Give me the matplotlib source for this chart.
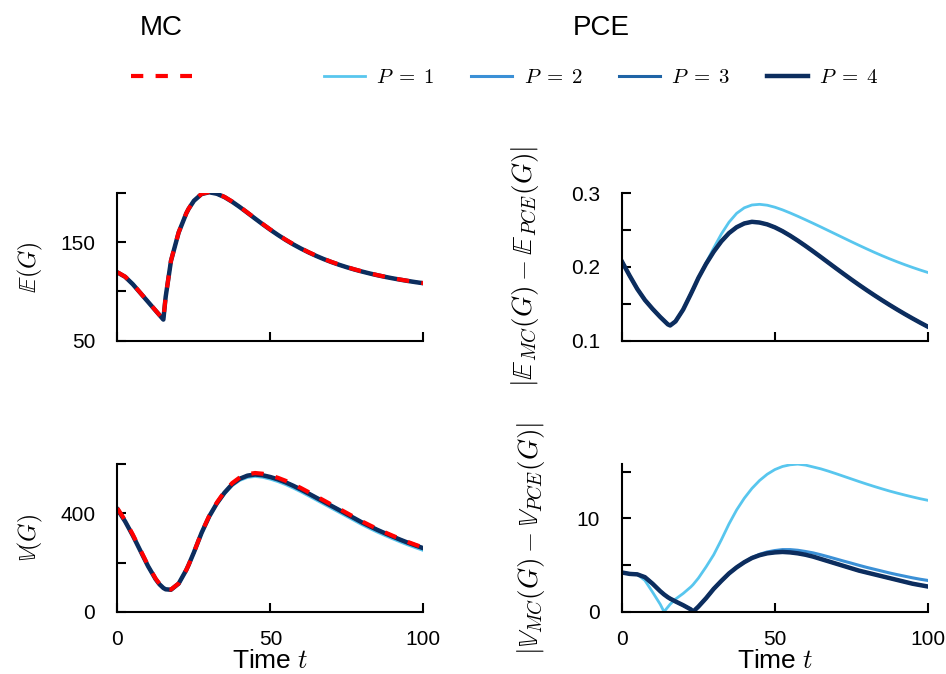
import matplotlib
matplotlib.use('Agg')
import matplotlib.pyplot as plt
from matplotlib.lines import Line2D
import numpy as np

plt.rcParams['font.family'] = ['Liberation Sans', 'DejaVu Sans']
plt.rcParams['mathtext.fontset'] = 'cm'

# time grid (extra points near the kinks)
t = [0, 2.5, 5, 7.5, 10, 12.5, 13.75, 15, 15.75, 17.5, 20, 22.5, 23.25,
     25, 27.5, 30, 32.5, 35, 37.5, 40, 42.5, 45, 47.5, 50, 52.5, 55, 57.5,
     60, 62.5, 65, 67.5, 70, 72.5, 75, 77.5, 80, 82.5, 85, 87.5, 90, 92.5,
     95, 97.5, 100]

# Monte Carlo mean and variance of G
mean_mc = [119.5, 115, 107.5, 98.5, 89.5, 80.5, 76, 71.5, 94.5, 131.3, 160, 179.5, 184,
           192.3, 199.2, 201, 199.5, 196.1, 191.4, 186.0, 180.2, 174.3, 168.5, 162.9, 157.6, 152.6, 148.0,
           143.8, 139.9, 136.3, 133.0, 130.0, 127.25, 124.75, 122.45, 120.35, 118.4, 116.6, 114.95, 113.45, 112.05,
           110.75, 109.55, 108.45]
var_mc = [420, 371, 314, 251, 188, 134, 113, 98, 92.5, 90.5, 115, 170, 190,
          242, 322, 390, 444, 488, 523, 546, 559, 564, 561, 554, 544.3, 532.3, 518.3,
          502.8, 486.3, 469.3, 452.3, 435.3, 418.3, 401.3, 384.3, 367, 351.5, 336.5, 322.5, 309, 296,
          283.5, 272, 261]

# |E_MC - E_PCE| for each order P
err_mean_p1 = [0.207, 0.188, 0.170, 0.155, 0.143, 0.132, 0.127, 0.122, 0.1205, 0.126, 0.142, 0.163, 0.1695,
               0.185, 0.2055, 0.2255, 0.2445, 0.2605, 0.2725, 0.2800, 0.2838, 0.2847, 0.2835, 0.2808, 0.2772, 0.2730, 0.2685,
               0.2638, 0.2590, 0.2541, 0.2491, 0.2441, 0.2391, 0.2341, 0.2292, 0.2244, 0.2197, 0.2152, 0.2109, 0.2068, 0.2029,
               0.1992, 0.1957, 0.1924]
err_mean_p4 = [0.207, 0.188, 0.170, 0.155, 0.143, 0.132, 0.127, 0.122, 0.1205, 0.126, 0.142, 0.163, 0.1695,
               0.185, 0.204, 0.2205, 0.2345, 0.2457, 0.2537, 0.2588, 0.2610, 0.2600, 0.2575, 0.2535, 0.2483, 0.2422, 0.2355,
               0.2284, 0.2210, 0.2134, 0.2057, 0.1980, 0.1904, 0.1829, 0.1756, 0.1685, 0.1616, 0.1549, 0.1484, 0.1421, 0.1360,
               0.1301, 0.1244, 0.1189]
err_mean_p2 = err_mean_p4
err_mean_p3 = err_mean_p4

# |V_MC - V_PCE| for each order P
err_var_p1 = [4.2, 4.1, 4.0, 3.35, 2.1, 0.8, 0.0, 0.5, 0.8, 1.35, 1.95, 2.65, 2.9,
              3.6, 4.8, 6.1, 7.7, 9.4, 10.9, 12.15, 13.2, 14.05, 14.72, 15.22, 15.55, 15.73, 15.8,
              15.7, 15.5, 15.3, 15.05, 14.78, 14.5, 14.22, 13.94, 13.67, 13.41, 13.16, 12.92, 12.7, 12.49,
              12.29, 12.1, 11.93]
err_var_p2 = [4.2, 4.05, 4.0, 3.7, 3.0, 2.2, 1.85, 1.55, 1.4, 1.1, 0.7, 0.25, 0.0,
              0.55, 1.45, 2.45, 3.3, 4.1, 4.75, 5.3, 5.8, 6.15, 6.4, 6.55, 6.65, 6.65, 6.58,
              6.45, 6.3, 6.1, 5.88, 5.65, 5.42, 5.2, 4.97, 4.75, 4.55, 4.35, 4.15, 3.97, 3.8,
              3.63, 3.48, 3.35]
err_var_p4 = [4.2, 4.05, 4.0, 3.7, 3.0, 2.2, 1.85, 1.55, 1.4, 1.1, 0.7, 0.25, 0.0,
              0.55, 1.45, 2.45, 3.3, 4.1, 4.75, 5.3, 5.75, 6.05, 6.25, 6.35, 6.4, 6.35, 6.25,
              6.1, 5.9, 5.65, 5.4, 5.15, 4.9, 4.65, 4.4, 4.2, 4.0, 3.8, 3.6, 3.4, 3.2,
              3.0, 2.85, 2.7]
err_var_p3 = err_var_p4

orders = [1, 2, 3, 4]
colors = ['#58c6ee', '#3b90d6', '#1f64a6', '#0c2d5e']
widths = [2.0, 2.2, 2.2, 3.2]
err_mean = [err_mean_p1, err_mean_p2, err_mean_p3, err_mean_p4]
err_var = [err_var_p1, err_var_p2, err_var_p3, err_var_p4]

t = np.array(t)
mean_mc = np.array(mean_mc)
var_mc = np.array(var_mc)

fig, axs = plt.subplots(2, 2, figsize=(9.46, 6.74), dpi=100)
plt.subplots_adjust(left=0.1242, right=0.9807, bottom=0.0924, top=0.7136,
                    wspace=0.65, hspace=0.837)
mc_dash = (2.95, 2.95)

ax = axs[0, 0]
for c, w, e in zip(colors, widths, err_mean):
    ax.plot(t, mean_mc - np.array(e), color=c, lw=w, solid_joinstyle='round')
ax.plot(t, mean_mc, color='red', lw=3, dashes=mc_dash, dash_joinstyle='round')
ax.set_ylim(50, 200)
ax.set_yticks([50, 100, 150, 200])
ax.set_yticklabels(['50', '', '150', ''])
ax.set_ylabel(r'$\mathbb{E}(G)$', fontsize=17, labelpad=11)

ax = axs[1, 0]
for c, w, e in zip(colors, widths, err_var):
    ax.plot(t, var_mc - np.array(e), color=c, lw=w, solid_joinstyle='round')
ax.plot(t, var_mc, color='red', lw=3, dashes=mc_dash, dash_joinstyle='round')
ax.set_ylim(0, 600)
ax.set_yticks([0, 200, 400, 600])
ax.set_yticklabels(['0', '', '400', ''])
ax.set_ylabel(r'$\mathbb{V}(G)$', fontsize=17, labelpad=11)

ax = axs[0, 1]
for c, w, e in zip(colors, widths, err_mean):
    ax.plot(t, e, color=c, lw=w, solid_joinstyle='round')
ax.set_ylim(0.1, 0.3)
ax.set_yticks([0.1, 0.15, 0.2, 0.25, 0.3])
ax.set_yticklabels(['0.1', '', '0.2', '', '0.3'])
ax.set_ylabel(r'$|\mathbb{E}_{MC}(G) - \mathbb{E}_{PCE}(G)|$', fontsize=19.5, labelpad=21)

ax = axs[1, 1]
for c, w, e in zip(colors, widths, err_var):
    ax.plot(t, e, color=c, lw=w, solid_joinstyle='round')
ax.set_ylim(0, max(err_var_p1))
ax.set_yticks([0, 5, 10, 15])
ax.set_yticklabels(['0', '', '10', ''])
ax.set_ylabel(r'$|\mathbb{V}_{MC}(G) - \mathbb{V}_{PCE}(G)|$', fontsize=19.5, labelpad=21)

for ax in axs.flat:
    ax.set_xlim(0, 100)
    ax.set_xticks([0, 50, 100])
    for s in ['top', 'right']:
        ax.spines[s].set_visible(False)
    for s in ['left', 'bottom']:
        ax.spines[s].set_linewidth(1.5)
    ax.tick_params(direction='in', length=6.5, width=1.5, labelsize=15)
    ax.tick_params(axis='y', pad=16)
    ax.tick_params(axis='x', pad=13)
for ax in axs[0]:
    ax.set_xticklabels([])
for ax in axs[1]:
    ax.set_xlabel('Time $t$', fontsize=19, labelpad=0)

# legends above the panels
mc_handle = Line2D([], [], color='red', lw=3, dashes=mc_dash)
fig.legend([mc_handle], [''], title='MC', loc='upper center',
           bbox_to_anchor=(0.1707, 0.996), frameon=False, fontsize=15,
           title_fontsize=20, handlelength=2.96, handletextpad=0,
           borderpad=0.1, labelspacing=1.3)
pce_handles = [Line2D([], [], color=c, lw=w) for c, w in zip(colors, widths)]
fig.legend(pce_handles, [r'$P\;=\;%d$' % p for p in orders], title='PCE',
           loc='upper center', bbox_to_anchor=(0.6353, 0.996), frameon=False,
           ncol=4, fontsize=15, title_fontsize=20, handlelength=1.97,
           handletextpad=0.56, columnspacing=1.76, borderpad=0.1,
           labelspacing=1.3)

plt.savefig('out.png', dpi=100)
